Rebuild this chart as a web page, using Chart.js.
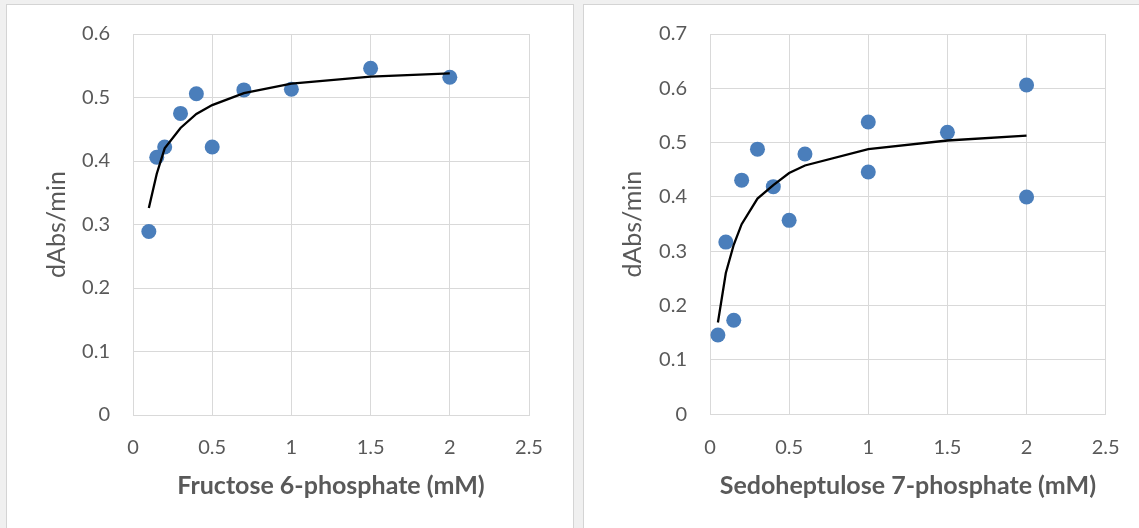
<!DOCTYPE html>
<html>
<head>
<meta charset="utf-8">
<script src="https://cdn.jsdelivr.net/npm/chart.js@4"></script>
<style>
  body { margin: 0; width: 1139px; height: 528px; overflow: hidden; position: relative; background: #f0f0f0; }
  .panel { position: absolute; background: #fff; border: 1px solid #d4d4d4; }
  canvas { position: absolute; }
</style>
</head>
<body>
<div class="panel" style="left:6px; top:4px; width:566px; height:540px;"></div>
<div class="panel" style="left:583px; top:4px; width:580px; height:540px;"></div>
<canvas id="f6p" width="566" height="523" style="left:7px; top:5px;"></canvas>
<canvas id="s7p" width="555" height="523" style="left:584px; top:5px;"></canvas>
<script>
// Fructose 6-phosphate: measured rates and fitted curve
const f6pConc = [0.1, 0.15, 0.2, 0.3, 0.4, 0.5, 0.7, 1, 1.5, 2];
const f6pRate = [0.289, 0.406, 0.422, 0.475, 0.506, 0.422, 0.512, 0.513, 0.546, 0.532];
const f6pFit = [0.326, 0.38, 0.42, 0.452, 0.474, 0.488, 0.507, 0.522, 0.533, 0.538];

// Sedoheptulose 7-phosphate: measured rates and fitted curve
const s7pConc = [0.05, 0.1, 0.15, 0.2, 0.3, 0.4, 0.5, 0.6, 1, 1, 1.5, 2, 2];
const s7pRate = [0.146, 0.317, 0.173, 0.431, 0.488, 0.419, 0.357, 0.479, 0.538, 0.446, 0.519, 0.606, 0.4];
const s7pFitConc = [0.05, 0.1, 0.15, 0.2, 0.3, 0.4, 0.5, 0.6, 1, 1.5, 2];
const s7pFit = [0.169, 0.26, 0.312, 0.35, 0.397, 0.422, 0.444, 0.458, 0.488, 0.504, 0.513];

const xTicks = [0, 0.5, 1, 1.5, 2, 2.5];
const yAxisTitle = "dAbs/min";

const FONT = "Lato, 'Open Sans', sans-serif";
const GREY = "#595959";
const GRID = "#d9d9d9";
const DOT = "#4a7ebb";

function pairs(xs, ys) {
  return xs.map((x, i) => ({ x, y: ys[i] }));
}

function makeChart(id, opts) {
  const ctx = document.getElementById(id).getContext("2d");
  return new Chart(ctx, {
    type: "scatter",
    data: {
      datasets: [
        {
          data: pairs(opts.fitX, opts.fitY),
          showLine: true,
          borderColor: "#000",
          borderWidth: 2.3,
          pointRadius: 0,
          tension: 0,
          fill: false
        },
        {
          data: pairs(opts.x, opts.y),
          backgroundColor: DOT,
          borderColor: DOT,
          borderWidth: 0,
          pointRadius: 7.5
        }
      ]
    },
    options: {
      responsive: false,
      animation: false,
      layout: { padding: { top: 29, right: opts.padRight, left: 0, bottom: 0 } },
      plugins: { legend: { display: false }, tooltip: { enabled: false } },
      scales: {
        x: {
          type: "linear",
          min: 0,
          max: 2.5,
          afterBuildTicks: s => { s.ticks = xTicks.map(v => ({ value: v })); },
          afterFit: s => {
            s.height = opts.xHeight;
            s.paddingLeft = 0; s.paddingRight = 0; s.paddingTop = 0; s.paddingBottom = 0;
          },
          grid: { color: GRID, lineWidth: 1, drawTicks: false },
          border: { color: GRID, width: 1 },
          ticks: {
            color: GREY, font: { family: FONT, size: 20 }, padding: 21,
            callback: v => String(v)
          },
          title: {
            display: true,
            text: opts.xTitle,
            color: GREY,
            font: { family: FONT, size: 25, weight: "bold" },
            padding: { top: 0, bottom: 27 }
          }
        },
        y: {
          min: 0,
          max: opts.yMax,
          ticks: { stepSize: 0.1, color: GREY, font: { family: FONT, size: 20 }, padding: 23 },
          afterFit: s => {
            s.width = 126;
            s.paddingLeft = 0; s.paddingRight = 0; s.paddingTop = 0; s.paddingBottom = 0;
          },
          grid: { color: GRID, lineWidth: 1, drawTicks: false },
          border: { color: GRID, width: 1 },
          title: {
            display: true,
            text: yAxisTitle,
            color: GREY,
            font: { family: FONT, size: 25 },
            padding: { top: opts.yTitlePad, bottom: 0 }
          }
        }
      }
    }
  });
}

makeChart("f6p", {
  x: f6pConc, y: f6pRate, fitX: f6pConc, fitY: f6pFit,
  yMax: 0.6, padRight: 44, xHeight: 113, yTitlePad: 35,
  xTitle: "Fructose 6-phosphate (mM)"
});

makeChart("s7p", {
  x: s7pConc, y: s7pRate, fitX: s7pFitConc, fitY: s7pFit,
  yMax: 0.7, padRight: 33.3, xHeight: 113.7, yTitlePad: 34,
  xTitle: "Sedoheptulose 7-phosphate (mM)"
});
</script>
</body>
</html>
